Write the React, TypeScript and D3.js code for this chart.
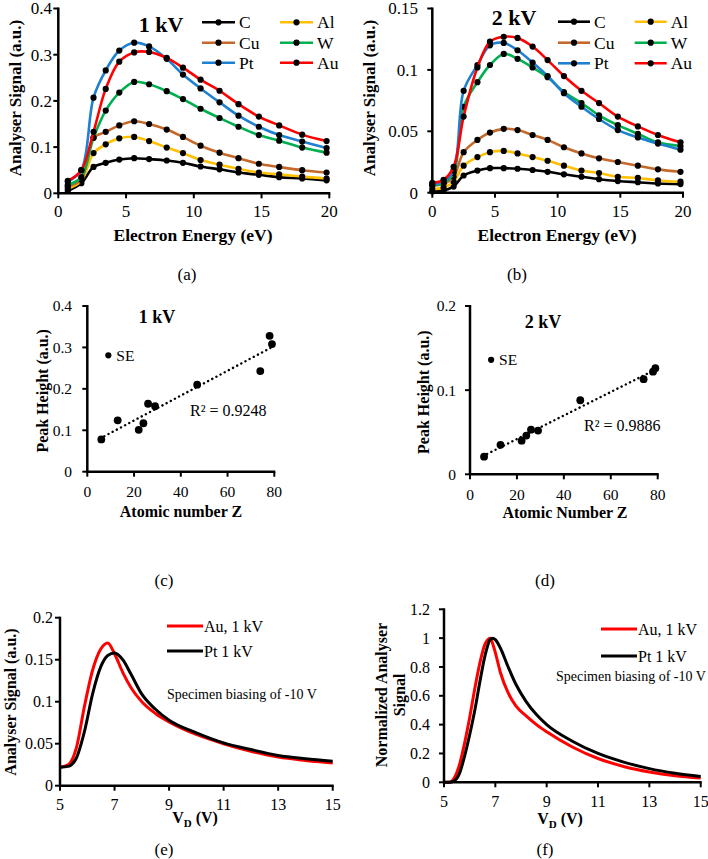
import React from 'react';
import * as d3 from 'd3';

const FONT = '"Liberation Serif", "Times New Roman", serif';

// ---------- (a) 1 kV spectra ----------
const energy1kV = [0.7, 1.7, 2.6, 3.5, 4.5, 5.6, 6.7, 8.0, 9.2, 10.5, 11.9, 13.3, 14.8, 16.3, 18.0, 19.8];
const C_1kV = [0.005, 0.022, 0.057, 0.066, 0.073, 0.076, 0.074, 0.071, 0.066, 0.058, 0.052, 0.045, 0.040, 0.035, 0.032, 0.028];
const Al_1kV = [0.010, 0.027, 0.087, 0.106, 0.119, 0.122, 0.113, 0.099, 0.087, 0.072, 0.062, 0.053, 0.045, 0.041, 0.036, 0.032];
const Cu_1kV = [0.015, 0.030, 0.120, 0.133, 0.147, 0.156, 0.150, 0.138, 0.122, 0.103, 0.088, 0.076, 0.064, 0.057, 0.050, 0.045];
const W_1kV = [0.018, 0.035, 0.120, 0.179, 0.218, 0.241, 0.236, 0.221, 0.204, 0.183, 0.163, 0.144, 0.126, 0.114, 0.099, 0.088];
const Pt_1kV = [0.025, 0.050, 0.207, 0.266, 0.309, 0.326, 0.318, 0.291, 0.257, 0.227, 0.197, 0.168, 0.144, 0.126, 0.112, 0.098];
const Au_1kV = [0.027, 0.050, 0.133, 0.226, 0.285, 0.305, 0.306, 0.293, 0.272, 0.246, 0.222, 0.193, 0.166, 0.147, 0.127, 0.113];

// ---------- (b) 2 kV spectra ----------
const energy2kV = [0, 0.9, 1.7, 2.5, 3.6, 4.6, 5.7, 6.8, 8.0, 9.2, 10.5, 11.9, 13.3, 14.8, 16.4, 18.0, 19.8];
const C_2kV = [0.001, 0.002, 0.005, 0.014, 0.018, 0.020, 0.020, 0.0195, 0.0185, 0.017, 0.015, 0.013, 0.011, 0.0095, 0.0085, 0.0075, 0.007];
const Al_2kV = [0.003, 0.004, 0.009, 0.022, 0.029, 0.033, 0.034, 0.032, 0.029, 0.026, 0.022, 0.018, 0.016, 0.013, 0.012, 0.010, 0.009];
const Cu_2kV = [0.006, 0.007, 0.013, 0.033, 0.043, 0.049, 0.052, 0.051, 0.047, 0.043, 0.037, 0.032, 0.028, 0.025, 0.022, 0.019, 0.017];
const W_2kV = [0.006, 0.008, 0.016, 0.070, 0.090, 0.104, 0.113, 0.109, 0.102, 0.094, 0.082, 0.073, 0.063, 0.055, 0.048, 0.041, 0.038];
const Pt_2kV = [0.007, 0.009, 0.018, 0.083, 0.104, 0.120, 0.122, 0.116, 0.106, 0.095, 0.081, 0.070, 0.060, 0.051, 0.045, 0.040, 0.035];
const Au_2kV = [0.008, 0.0105, 0.021, 0.062, 0.102, 0.123, 0.127, 0.126, 0.119, 0.108, 0.095, 0.083, 0.073, 0.062, 0.054, 0.047, 0.041];

const elements = ['C', 'Al', 'Cu', 'W', 'Pt', 'Au'];
const elementColors = ['#000000', '#FFC000', '#C5692A', '#00B050', '#1E80D0', '#FF0000'];

// ---------- (c), (d) peak heights ----------
const atomicZ = [6, 13, 22, 24, 26, 29, 47, 74, 78, 79];
const peak1kV = [0.078, 0.124, 0.101, 0.117, 0.164, 0.158, 0.210, 0.243, 0.328, 0.308];
const peak2kV = [0.021, 0.035, 0.040, 0.046, 0.053, 0.052, 0.088, 0.113, 0.122, 0.126];
const seZ = 9;
const se1kV = 0.281;
const se2kV = 0.136;

// ---------- (e) biased spectra ----------
const vdE = [5, 5.3, 5.6, 5.9, 6.2, 6.5, 6.75, 7.0, 7.3, 7.6, 8.0, 8.5, 9, 10, 11, 12, 13, 14, 15];
const AuE = [0.022, 0.025, 0.045, 0.095, 0.138, 0.163, 0.170, 0.157, 0.135, 0.117, 0.100, 0.086, 0.076, 0.061, 0.050, 0.041, 0.034, 0.030, 0.027];
const PtE = [0.022, 0.023, 0.033, 0.065, 0.110, 0.142, 0.155, 0.158, 0.150, 0.133, 0.109, 0.091, 0.078, 0.063, 0.051, 0.043, 0.036, 0.032, 0.029];

// ---------- (f) normalised ----------
const vdF = [5, 5.2, 5.4, 5.6, 5.8, 6.0, 6.2, 6.4, 6.6, 6.8, 6.9, 7.0, 7.2, 7.5, 7.8, 8.2, 8.6, 9, 10, 11, 12, 13, 14, 15];
const AuF = [0, 0, 0.03, 0.12, 0.27, 0.45, 0.65, 0.83, 0.96, 1.0, 0.96, 0.90, 0.76, 0.62, 0.53, 0.46, 0.40, 0.35, 0.245, 0.165, 0.11, 0.072, 0.046, 0.03];
const PtF = [0, 0, 0.01, 0.06, 0.18, 0.33, 0.50, 0.70, 0.88, 0.99, 1.0, 0.99, 0.93, 0.80, 0.68, 0.56, 0.47, 0.40, 0.285, 0.20, 0.14, 0.095, 0.063, 0.04];

// tick values
const ticksE = [0, 5, 10, 15, 20];
const ticksA = [0, 0.1, 0.2, 0.3, 0.4];
const ticksB = [0, 0.05, 0.1, 0.15];
const ticksZ = [0, 20, 40, 60, 80];
const ticksC = [0, 0.1, 0.2, 0.3, 0.4];
const ticksD = [0, 0.1, 0.2];
const ticksV = [5, 7, 9, 11, 13, 15];
const ticksEy = [0, 0.05, 0.1, 0.15, 0.2];
const ticksFy = [0, 0.2, 0.4, 0.6, 0.8, 1, 1.2];

const fmt = (v: number) => String(+v.toFixed(3));

function YAxis({ y, x0, ticks, labelRight, fs }: any) {
  return (
    <g>
      <line x1={x0} x2={x0} y1={y(ticks[0]) + 1} y2={y(ticks[ticks.length - 1]) - 1} stroke="#000" strokeWidth={2.5} />
      {ticks.map((t: number) => (
        <g key={t}>
          <line x1={x0 - 5} x2={x0} y1={y(t)} y2={y(t)} stroke="#000" strokeWidth={2} />
          <text x={labelRight} y={y(t)} dy="0.35em" textAnchor="end" fontSize={fs}>{fmt(t)}</text>
        </g>
      ))}
    </g>
  );
}

function XAxis({ x, y0, ticks, labelY, fs }: any) {
  return (
    <g>
      <line x1={x(ticks[0]) - 1} x2={x(ticks[ticks.length - 1]) + 1} y1={y0} y2={y0} stroke="#000" strokeWidth={2.5} />
      {ticks.map((t: number) => (
        <g key={t}>
          <line x1={x(t)} x2={x(t)} y1={y0} y2={y0 + 5} stroke="#000" strokeWidth={2} />
          <text x={x(t)} y={labelY} dy="0.35em" textAnchor="middle" fontSize={fs}>{fmt(t)}</text>
        </g>
      ))}
    </g>
  );
}

function YTitle({ x, y, fs, children }: any) {
  return (
    <text transform={`translate(${x},${y}) rotate(-90)`} textAnchor="middle" dy="0.35em" fontSize={fs} fontWeight="bold">
      {children}
    </text>
  );
}

function SpectraPanel({ energies, series, xr, yr, yTicks, title, titlePos, legend, yLabelRight, yTitleX, xTitleX }: any) {
  const x = d3.scaleLinear().domain([0, 20]).range(xr);
  const y = d3.scaleLinear().domain([0, yTicks[yTicks.length - 1]]).range(yr);
  const line = d3.line<number>().x((_, i) => x(energies[i])).y((d) => y(d)).curve(d3.curveCatmullRom.alpha(0.5));
  return (
    <g>
      {series.map((s: number[], k: number) => (
        <g key={k}>
          <path d={line(s) || ''} fill="none" stroke={elementColors[k]} strokeWidth={2.6} />
          {s.map((v, i) => (
            <circle key={i} cx={x(energies[i])} cy={y(v)} r={3.1} fill="#000" />
          ))}
        </g>
      ))}
      <YAxis y={y} x0={xr[0]} ticks={yTicks} labelRight={yLabelRight} fs={17} />
      <XAxis x={x} y0={yr[0]} ticks={ticksE} labelY={211} fs={17} />
      <YTitle x={yTitleX} y={98} fs={17}>Analyser Signal (a.u.)</YTitle>
      <text x={xTitleX} y={235} dy="0.35em" textAnchor="middle" fontSize={17.5} fontWeight="bold">Electron Energy (eV)</text>
      <text x={titlePos[0]} y={titlePos[1]} textAnchor="middle" fontSize={22} fontWeight="bold">{title}</text>
      {elements.map((el, k) => {
        const col = k % 2;
        const row = Math.floor(k / 2);
        const lx = legend.cols[col];
        const ly = legend.rows[row];
        return (
          <g key={el}>
            <line x1={lx} x2={lx + legend.len} y1={ly} y2={ly} stroke={elementColors[k]} strokeWidth={2.6} />
            <circle cx={lx + legend.len / 2} cy={ly} r={3.1} fill="#000" />
            <text x={lx + legend.len + 4} y={ly} dy="0.35em" fontSize={17.5}>{el}</text>
          </g>
        );
      })}
    </g>
  );
}

function ScatterPanel({ peaks, se, xr, yr, yTicks, title, titlePos, yLabelRight, yTitleX, xTitle, xTitlePos, r2, r2Pos }: any) {
  const x = d3.scaleLinear().domain([0, 80]).range(xr);
  const y = d3.scaleLinear().domain([0, yTicks[yTicks.length - 1]]).range(yr);
  const mx = d3.mean(atomicZ) as number;
  const my = d3.mean(peaks as number[]) as number;
  let sxy = 0, sxx = 0;
  atomicZ.forEach((z, i) => { sxy += (z - mx) * (peaks[i] - my); sxx += (z - mx) * (z - mx); });
  const slope = sxy / sxx;
  const icpt = my - slope * mx;
  const z0 = (d3.min(atomicZ) as number) - 0.5;
  const z1 = d3.max(atomicZ) as number;
  const ySE = y(se);
  return (
    <g>
      <line x1={x(z0)} y1={y(icpt + slope * z0)} x2={x(z1)} y2={y(icpt + slope * z1)} stroke="#000" strokeWidth={2.4} strokeDasharray="0.1 4.6" strokeLinecap="round" />
      {atomicZ.map((z, i) => (
        <circle key={i} cx={x(z)} cy={y(peaks[i])} r={3.9} fill="#000" />
      ))}
      <circle cx={x(seZ)} cy={ySE} r={3.1} fill="#000" />
      <text x={x(seZ) + 8} y={ySE} dy="0.35em" fontSize={15.5}>SE</text>
      <YAxis y={y} x0={xr[0]} ticks={yTicks} labelRight={yLabelRight} fs={15.5} />
      <XAxis x={x} y0={yr[0]} ticks={ticksZ} labelY={yr[0] + 20} fs={15.5} />
      <YTitle x={yTitleX} y={(yr[0] + yr[1]) / 2 + 2} fs={16}>Peak Height (a.u.)</YTitle>
      <text x={xTitlePos[0]} y={xTitlePos[1]} dy="0.35em" textAnchor="middle" fontSize={16} fontWeight="bold">{xTitle}</text>
      <text x={titlePos[0]} y={titlePos[1]} dy="0.35em" textAnchor="middle" fontSize={18} fontWeight="bold">{title}</text>
      <text x={r2Pos[0]} y={r2Pos[1]} dy="0.35em" fontSize={16}>{r2}</text>
    </g>
  );
}

function VdTitle({ x, y }: any) {
  return (
    <text x={x} y={y} dy="0.35em" textAnchor="middle" fontSize={16} fontWeight="bold">
      <tspan>V</tspan>
      <tspan dy="4" fontSize={11}>D</tspan>
      <tspan dy="-4"> (V)</tspan>
    </text>
  );
}

function BiasPanel({ vd, au, pt, xr, yr, yTicks, yLabelRight, legendX, legendY, specPos }: any) {
  const x = d3.scaleLinear().domain([5, 15]).range(xr);
  const y = d3.scaleLinear().domain([0, yTicks[yTicks.length - 1]]).range(yr);
  const line = d3.line<number>().x((_, i) => x(vd[i])).y((d) => y(d)).curve(d3.curveMonotoneX);
  return (
    <g>
      <path d={line(au) || ''} fill="none" stroke="#FF0000" strokeWidth={3} />
      <path d={line(pt) || ''} fill="none" stroke="#000" strokeWidth={3} />
      <YAxis y={y} x0={xr[0]} ticks={yTicks} labelRight={yLabelRight} fs={16} />
      <XAxis x={x} y0={yr[0]} ticks={ticksV} labelY={yr[0] + 19} fs={16} />
      <line x1={legendX} x2={legendX + 36} y1={legendY[0]} y2={legendY[0]} stroke="#FF0000" strokeWidth={3} />
      <text x={legendX + 37} y={legendY[0]} dy="0.35em" fontSize={16}>Au, 1 kV</text>
      <line x1={legendX} x2={legendX + 36} y1={legendY[1]} y2={legendY[1]} stroke="#000" strokeWidth={3} />
      <text x={legendX + 37} y={legendY[1]} dy="0.35em" fontSize={16}>Pt 1 kV</text>
      <text x={specPos[0]} y={specPos[1]} dy="0.35em" fontSize={14}>Specimen biasing of -10 V</text>
    </g>
  );
}

export default function App() {
  const series1 = [C_1kV, Al_1kV, Cu_1kV, W_1kV, Pt_1kV, Au_1kV];
  const series2 = [C_2kV, Al_2kV, Cu_2kV, W_2kV, Pt_2kV, Au_2kV];
  return (
    <svg width={708} height={859} style={{ position: 'absolute', left: 0, top: 0, background: '#fff' }} fontFamily={FONT}>
      <rect x={0} y={0} width={708} height={859} fill="#fff" />
      <SpectraPanel
        energies={energy1kV} series={series1} xr={[58.3, 329.3]} yr={[193.3, 8.5]} yTicks={ticksA}
        title="1 kV" titlePos={[161, 32]} yLabelRight={52} yTitleX={15} xTitleX={193}
        legend={{ cols: [202, 280], rows: [22.3, 42.7, 62.7], len: 33 }}
      />
      <SpectraPanel
        energies={energy2kV} series={series2} xr={[432.3, 683]} yr={[192.7, 8.5]} yTicks={ticksB}
        title="2 kV" titlePos={[514, 25]} yLabelRight={418} yTitleX={369} xTitleX={557}
        legend={{ cols: [558, 634.7], rows: [21.7, 42.7, 63.3], len: 32 }}
      />
      <text x={187} y={274} dy="0.35em" textAnchor="middle" fontSize={17}>(a)</text>
      <text x={517} y={274} dy="0.35em" textAnchor="middle" fontSize={17}>(b)</text>

      <ScatterPanel
        peaks={peak1kV} se={se1kV} xr={[87.3, 274.3]} yr={[471.7, 306]} yTicks={ticksC}
        title="1 kV" titlePos={[157, 317]} yLabelRight={72} yTitleX={42}
        xTitle="Atomic number Z" xTitlePos={[181, 511]} r2="R² = 0.9248" r2Pos={[190, 410]}
      />
      <ScatterPanel
        peaks={peak2kV} se={se2kV} xr={[470, 657.7]} yr={[474.3, 306]} yTicks={ticksD}
        title="2 kV" titlePos={[543, 322]} yLabelRight={456} yTitleX={423}
        xTitle="Atomic Number Z" xTitlePos={[565, 512]} r2="R² = 0.9886" r2Pos={[584, 425]}
      />
      <text x={164} y={580} dy="0.35em" textAnchor="middle" fontSize={17}>(c)</text>
      <text x={545} y={580} dy="0.35em" textAnchor="middle" fontSize={17}>(d)</text>

      <BiasPanel
        vd={vdE} au={AuE} pt={PtE} xr={[60, 332.7]} yr={[785.7, 617.7]} yTicks={ticksEy} yLabelRight={53}
        legendX={167} legendY={[626, 651]} specPos={[167, 694]}
      />
      <YTitle x={10} y={702} fs={16}>Analyser Signal  (a.u.)</YTitle>
      <VdTitle x={195} y={817} />
      <BiasPanel
        vd={vdF} au={AuF} pt={PtF} xr={[444, 700.7]} yr={[782.3, 609.3]} yTicks={ticksFy} yLabelRight={430}
        legendX={601} legendY={[629, 656]} specPos={[556, 676]}
      />
      <YTitle x={381} y={695} fs={16}>Normalized Analyser</YTitle>
      <YTitle x={399} y={695} fs={16}>Signal</YTitle>
      <VdTitle x={560} y={818} />
      <text x={164} y={849} dy="0.35em" textAnchor="middle" fontSize={17}>(e)</text>
      <text x={545} y={849} dy="0.35em" textAnchor="middle" fontSize={17}>(f)</text>
    </svg>
  );
}
